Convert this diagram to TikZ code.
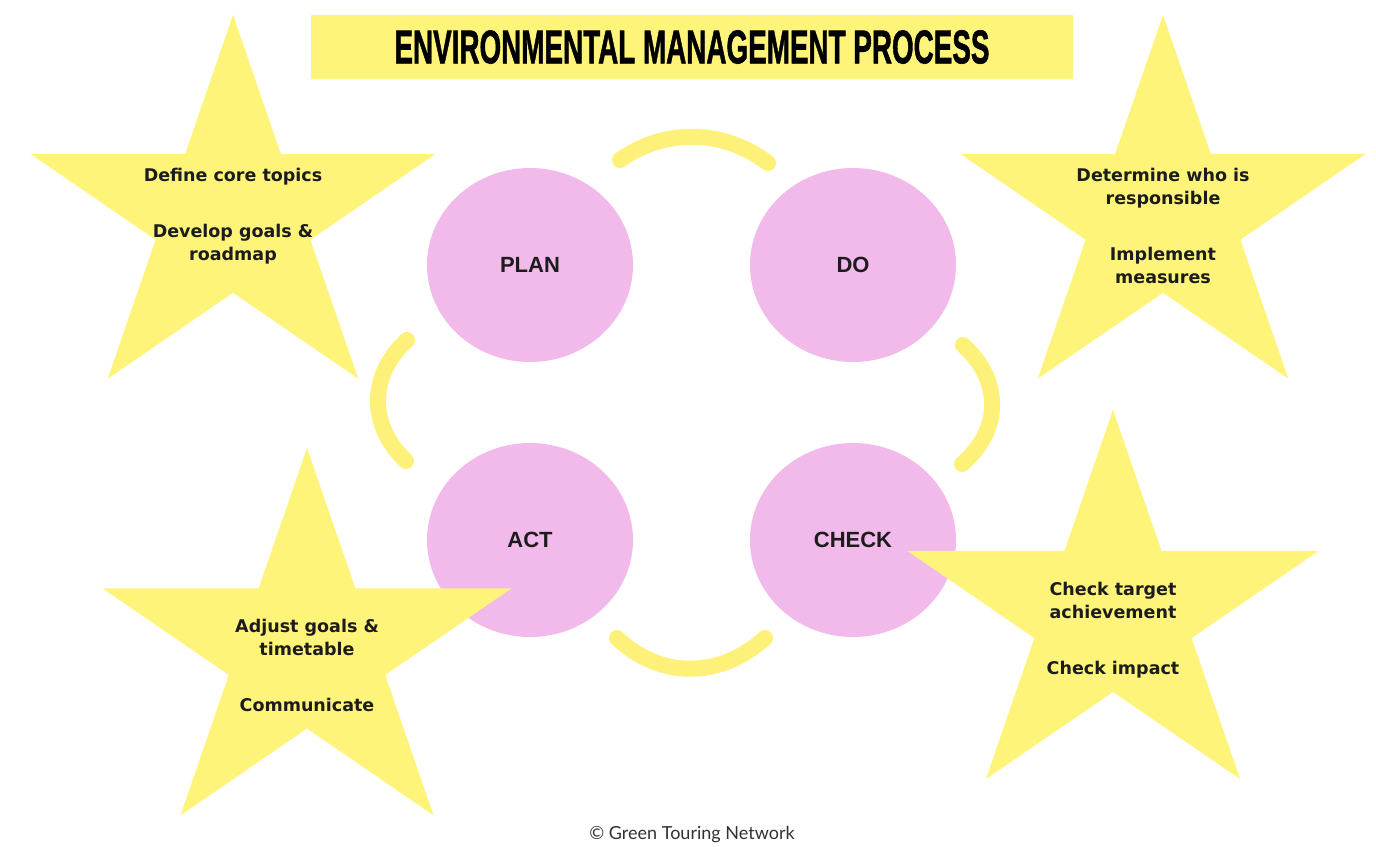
\documentclass[tikz,border=0pt]{standalone}
\usepackage{fontspec}
\setmainfont{DejaVu Sans}
\newfontfamily\lib{Liberation Sans}
\newfontfamily\libheavy[BoldFeatures={FakeBold=1.5}]{Liberation Sans}
\newfontfamily\lato{Lato}
\usetikzlibrary{shapes.geometric}
\definecolor{staryellow}{RGB}{254,244,122}
\definecolor{arcyellow}{RGB}{253,241,122}
\definecolor{pinkfill}{RGB}{242,186,235}
\definecolor{textdark}{RGB}{28,28,28}
\newcommand\mystar[3]{%
  \fill[staryellow] ({#1+1.06*#3*cos(90)},{#2-#3*sin(90)})
    \foreach \i in {1,...,9}{
      -- ({#1+1.06*(mod(\i,2)==0 ? #3 : 0.382*#3)*cos(90+36*\i)},{#2-(mod(\i,2)==0 ? #3 : 0.382*#3)*sin(90+36*\i)})
    } -- cycle;}
\tikzset{
  phase/.style={ellipse, fill=pinkfill, minimum width=206pt, minimum height=194pt, inner sep=0pt,
    font=\lib\bfseries\fontsize{22}{26}\selectfont, text=textdark},
  startext/.style={align=center, font=\bfseries\fontsize{17.5}{23}\selectfont, text=textdark},
  brush/.style={arcyellow, line width=16pt, line cap=round}
}
\begin{document}
\begin{tikzpicture}[x=1pt,y=-1pt]
\useasboundingbox (0,0) rectangle (1376,846);
\fill[white] (0,0) rectangle (1376,846);
% title
\fill[staryellow] (311,15) rectangle (1073,79);
\node (title) at (692,47) {\resizebox{595pt}{33pt}{\libheavy\bfseries ENVIRONMENTAL MANAGEMENT PROCESS}};
% phases
\node[phase] (plan) at (530,265) {PLAN};
\node[phase] (do) at (853,265) {DO};
\node[phase] (act) at (530,540) {ACT};
\node[phase] (check) at (853,540) {CHECK};
% brush arcs
\coordinate (t1) at (620,160); \coordinate (t2) at (768,163);
\coordinate (l1) at (407,340); \coordinate (l2) at (406,461);
\coordinate (r1) at (963,345); \coordinate (r2) at (962,464);
\coordinate (b1) at (617,638); \coordinate (b2) at (765,638);
\draw[brush] (t1) .. controls (665,128) and (723,129) .. (t2);
\draw[brush] (l1) .. controls (369,375) and (368,425) .. (l2);
\draw[brush] (r1) .. controls (1002,380) and (1002,430) .. (r2);
\draw[brush] (b1) .. controls (660,679) and (720,679) .. (b2);
% stars
\mystar{233}{216}{201}
\mystar{1163}{216}{201}
\mystar{307}{651}{203}
\mystar{1113}{614}{204}
\node[startext] (s1) at (233,216) {Define core topics\\[33pt]Develop goals \&\\roadmap};
\node[startext] (s2) at (1163,226) {Determine who is\\responsible\\[33pt]Implement\\measures};
\node[startext] (s3) at (307,665) {Adjust goals \&\\timetable\\[33pt]Communicate};
\node[startext] (s4) at (1113,630) {Check target\\achievement\\[33pt]Check impact};
% footer
\node[font=\lato\fontsize{18}{20}\selectfont, text={rgb,255:red,50;green,50;blue,50}] (foot) at (692,835) {© Green Touring Network};
\end{tikzpicture}
\end{document}
